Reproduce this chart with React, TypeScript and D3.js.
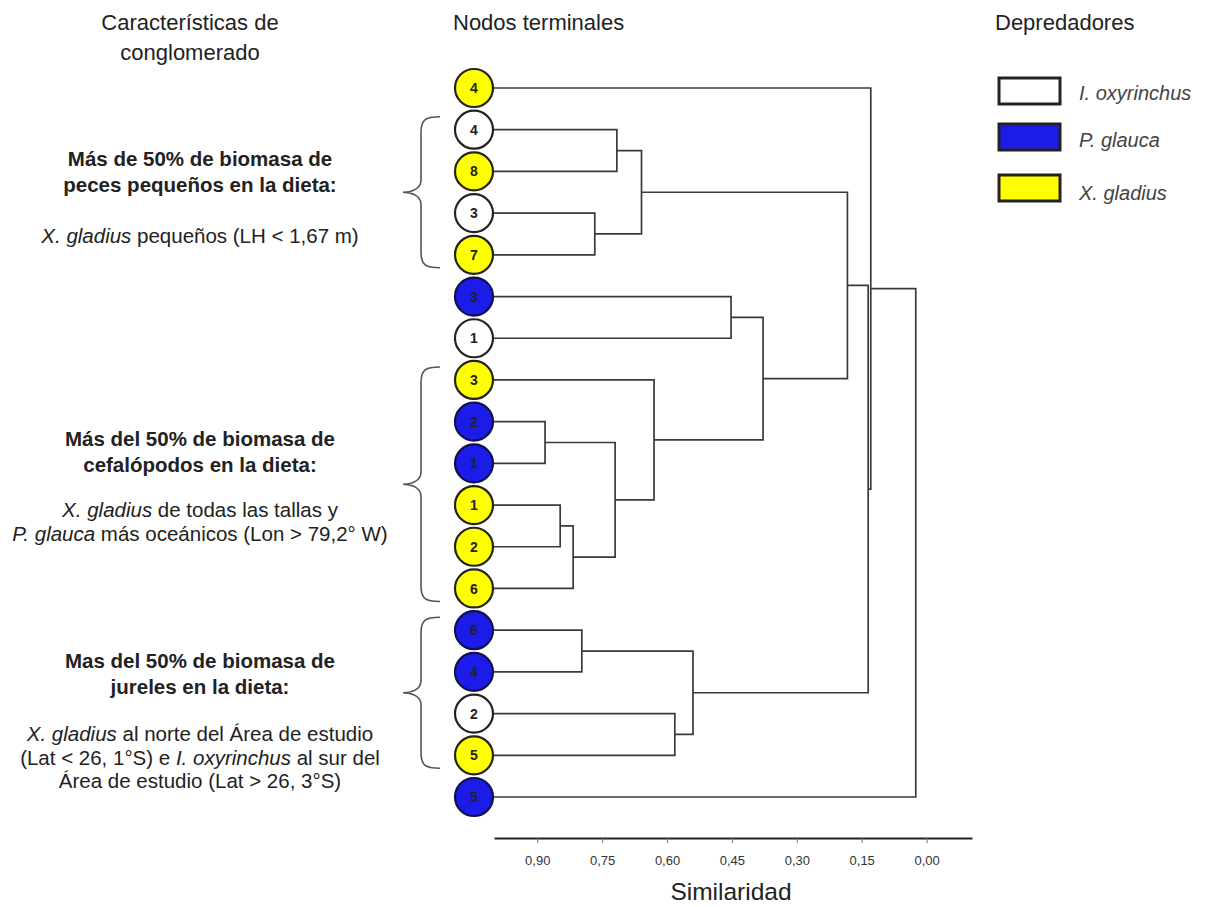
import React, { useEffect, useRef } from "react";
import * as d3 from "d3";

// ---- Data ----
const leafSpecies = ["X", "I", "X", "I", "X", "P", "I", "X", "P", "P", "X", "X", "X", "P", "P", "I", "X", "P"];
const leafNumbers = ["4", "4", "8", "3", "7", "3", "1", "3", "2", "1", "1", "2", "6", "6", "4", "2", "5", "5"];
// merges: [childA, childB, similarity]; leaves are 0..17, merges numbered 18+
const merges: [number, number, number][] = [
  [1, 2, 0.716],
  [3, 4, 0.767],
  [18, 19, 0.659],
  [5, 6, 0.452],
  [8, 9, 0.882],
  [10, 11, 0.847],
  [23, 12, 0.817],
  [22, 24, 0.72],
  [7, 25, 0.63],
  [21, 26, 0.378],
  [20, 27, 0.183],
  [13, 14, 0.797],
  [15, 16, 0.582],
  [29, 30, 0.54],
  [28, 31, 0.135],
  [0, 32, 0.129],
  [33, 17, 0.025],
];
const tickValues = [0.9, 0.75, 0.6, 0.45, 0.3, 0.15, 0.0];
const speciesKeys = ["I", "P", "X"];
const speciesNames = ["I. oxyrinchus", "P. glauca", "X. gladius"];
const speciesFill: Record<string, string> = { I: "#ffffff", P: "#1c1ce8", X: "#ffff00" };
const braceRanges: [number, number][] = [
  [1, 4],
  [7, 12],
  [13, 16],
];
type Seg = [string, boolean];
const blockBold: string[][] = [
  ["Más de 50% de biomasa de", "peces pequeños en la dieta:"],
  ["Más del 50% de biomasa de", "cefalópodos en la dieta:"],
  ["Mas del 50% de biomasa de", "jureles en la dieta:"],
];
const blockBody: Seg[][][] = [
  [[["X. gladius", true], [" pequeños (LH < 1,67 m)", false]]],
  [
    [["X. gladius", true], [" de todas las tallas y", false]],
    [["P. glauca", true], [" más oceánicos (Lon > 79,2° W)", false]],
  ],
  [
    [["X. gladius", true], [" al norte del Área de estudio", false]],
    [["(Lat < 26, 1°S) e ", false], ["I. oxyrinchus", true], [" al sur del", false]],
    [["Área de estudio (Lat > 26, 3°S)", false]],
  ],
];
const blockBoldY = [166, 446, 668];
const blockBodyY = [243, 517, 741];

const W = 1206;
const H = 907;
const FONT = "'Liberation Sans', Arial, sans-serif";

export default function App() {
  const axisRef = useRef<SVGGElement>(null);

  const x = d3.scaleLinear().domain([1, -0.105]).range([494, 972]);
  const y = d3.scalePoint<number>().domain(d3.range(leafSpecies.length)).range([88, 797]);
  const leafX = 474;
  const r = 19;

  // node positions
  const nodes: { x: number; y: number }[] = leafSpecies.map((_, i) => ({ x: leafX, y: y(i)! }));
  const paths: string[] = [];
  merges.forEach(([a, b, s]) => {
    const na = nodes[a];
    const nb = nodes[b];
    const xm = x(s);
    const p = d3.path();
    p.moveTo(na.x, na.y);
    p.lineTo(xm, na.y);
    p.lineTo(xm, nb.y);
    p.lineTo(nb.x, nb.y);
    paths.push(p.toString());
    nodes.push({ x: xm, y: (na.y + nb.y) / 2 });
  });

  useEffect(() => {
    if (!axisRef.current) return;
    const g = d3.select(axisRef.current);
    g.selectAll("*").remove();
    const axis = d3
      .axisBottom(x)
      .tickValues(tickValues)
      .tickSize(5)
      .tickSizeOuter(0)
      .tickPadding(13)
      .tickFormat((d) => d3.format(".2f")(d as number).replace(".", ","));
    g.call(axis as any);
    g.select(".domain").attr("stroke", "#222").attr("stroke-width", 2.2);
    g.selectAll(".tick line").attr("stroke", "#777").attr("stroke-width", 1);
    g.selectAll(".tick text").attr("font-size", 13).attr("fill", "#333").attr("font-family", FONT);
  }, []);

  const bracePath = (top: number, bot: number) => {
    const mid = (top + bot) / 2;
    const xe = 440;
    const xv = 421;
    const xt = 403;
    return `M${xe},${top} C${xv + 4},${top} ${xv},${top + 3} ${xv},${top + 16} L${xv},${mid - 12} C${xv},${mid - 3} ${xt + 8},${mid} ${xt},${mid} C${xt + 8},${mid} ${xv},${mid + 3} ${xv},${mid + 12} L${xv},${bot - 16} C${xv},${bot - 3} ${xv + 4},${bot} ${xe},${bot}`;
  };

  const legendRectY = [78, 124, 175];
  const legendTextY = [100, 147, 200];

  return (
    <svg
      width={W}
      height={H}
      style={{ position: "absolute", left: 0, top: 0, background: "#fff" }}
      fontFamily={FONT}
    >
      {/* headers */}
      <text x={190} y={30} fontSize={22} textAnchor="middle" fill="#222">Características de</text>
      <text x={190} y={60} fontSize={22} textAnchor="middle" fill="#222">conglomerado</text>
      <text x={453} y={30} fontSize={22} fill="#222">Nodos terminales</text>
      <text x={995} y={30} fontSize={22} fill="#222">Depredadores</text>

      {/* cluster descriptions */}
      {blockBold.map((lines, bi) => (
        <g key={"b" + bi}>
          {lines.map((ln, li) => (
            <text key={li} x={200} y={blockBoldY[bi] + li * 26} fontSize={20.5} fontWeight="bold" textAnchor="middle" fill="#222">
              {ln}
            </text>
          ))}
          {blockBody[bi].map((segs, li) => (
            <text key={"t" + li} x={200} y={blockBodyY[bi] + li * 23.5} fontSize={20.5} textAnchor="middle" fill="#222">
              {segs.map(([t, it], si) => (
                <tspan key={si} fontStyle={it ? "italic" : "normal"}>{t}</tspan>
              ))}
            </text>
          ))}
        </g>
      ))}

      {/* braces */}
      {braceRanges.map(([a, b], i) => (
        <path key={"br" + i} d={bracePath(y(a)! - 13, y(b)! + 13)} fill="none" stroke="#555" strokeWidth={1.6} />
      ))}

      {/* dendrogram */}
      {paths.map((d, i) => (
        <path key={"p" + i} d={d} fill="none" stroke="#3a3a3a" strokeWidth={1.7} />
      ))}

      {/* leaves */}
      {leafSpecies.map((sp, i) => (
        <g key={"l" + i} transform={`translate(${leafX},${y(i)})`}>
          <circle r={r} fill={speciesFill[sp]} stroke={sp === "P" ? "#10104a" : "#222"} strokeWidth={2.2} />
          <text textAnchor="middle" dy="0.36em" fontSize={14} fontWeight="bold" fill="#222">
            {leafNumbers[i]}
          </text>
        </g>
      ))}

      {/* axis */}
      <g ref={axisRef} transform={`translate(0,838)`} />
      <text x={731} y={900} fontSize={24.5} textAnchor="middle" fill="#222">Similaridad</text>

      {/* legend */}
      {speciesKeys.map((k, i) => (
        <g key={"lg" + i}>
          <rect x={999} y={legendRectY[i]} width={61} height={26} fill={speciesFill[k]} stroke="#222" strokeWidth={3} />
          <text x={1079} y={legendTextY[i]} fontSize={20} fontStyle="italic" fill="#444">{speciesNames[i]}</text>
        </g>
      ))}
    </svg>
  );
}
